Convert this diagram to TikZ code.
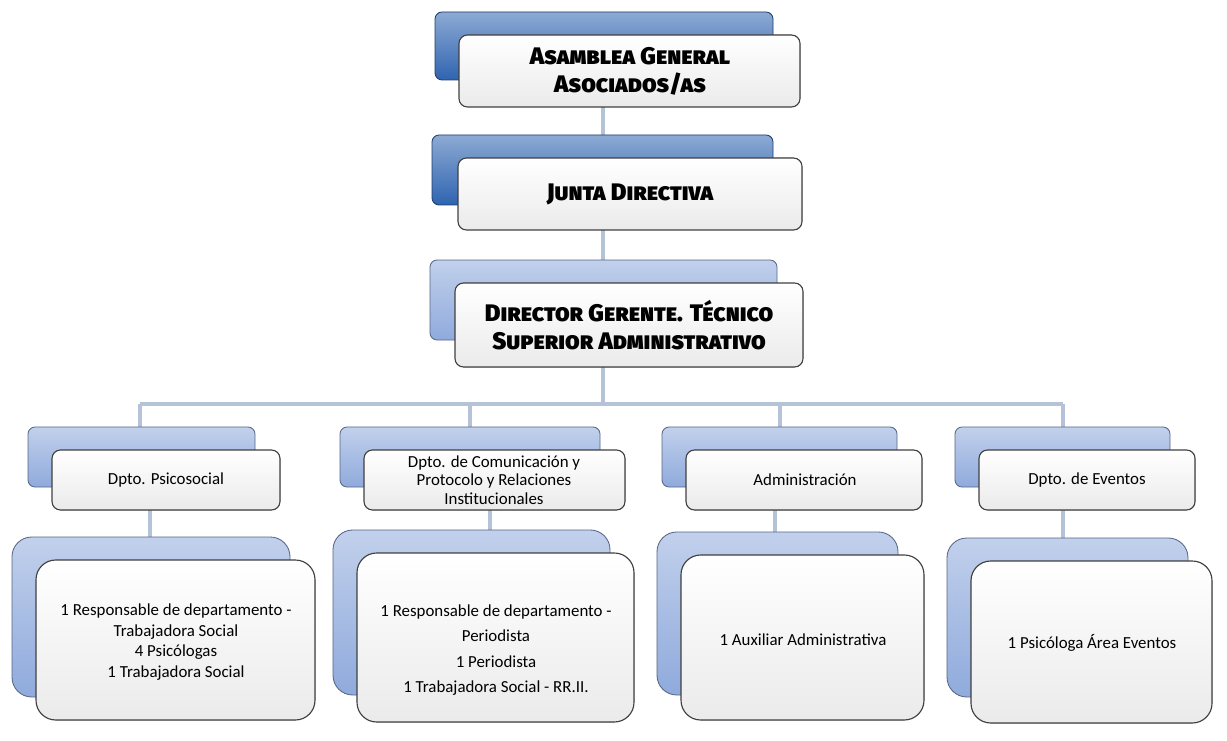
\documentclass[tikz,border=0pt]{standalone}
\usepackage{fontspec}
\setmainfont{Carlito}
\newfontfamily\hfont[Letters=SmallCaps]{Fira Sans Black}
\begin{document}
\begin{tikzpicture}[x=0.025cm,y=-0.025cm,
 back/.style={rounded corners=5pt,draw=#1!60!black,top color=#1!55!white,bottom color=#1,line width=0.6pt},
 front/.style={rounded corners=6pt,draw=black!75,top color=white,bottom color=black!8,line width=0.8pt,align=center},
 conn/.style={line width=2.5pt,draw=cblue},
 htxt/.style={font=\hfont\fontsize{17}{20}\selectfont},
 stxt/.style={font=\fontsize{12}{14.5}\selectfont}]
\definecolor{dblue}{HTML}{2F64B0}
\definecolor{lblue}{HTML}{8FAADC}
\definecolor{cblue}{HTML}{B4C3D8}
\useasboundingbox (0,0) rectangle (1227,741);
% connectors
\coordinate (h1) at (140,404); \coordinate (h4) at (1063,404);
\draw[conn] (603,100) -- (603,290);
\draw[conn] (603,360) -- (603,404);
\draw[conn] (h1) -- (h4);
\foreach \x in {140,470,780,1063}{\draw[conn] (\x,404) -- (\x,432);}
\foreach \x in {150,490,775,1063}{\draw[conn] (\x,505) -- (\x,542);}
% top boxes
\shade[back=dblue] (435,12) rectangle (773,80);
\filldraw[front] (459,35) rectangle (800,107);
\node[htxt,align=center] (ta) at (630,71) {Asamblea General\\Asociados/as};
\shade[back=dblue] (432,135) rectangle (773,205);
\filldraw[front] (458,158) rectangle (802,230);
\node[htxt] (tb) at (630,194) {Junta Directiva};
\shade[back=lblue] (430,260) rectangle (777,340);
\filldraw[front] (455,283) rectangle (803,367);
\node[htxt,align=center] (tc) at (629,325) {Director Gerente. Técnico\\Superior Administrativo};
% row 2
\shade[back=lblue] (28,427) rectangle (255,487);
\filldraw[front] (52,450) rectangle (280,510);
\node[stxt] (d1) at (166,480) {Dpto. Psicosocial};
\shade[back=lblue] (340,427) rectangle (600,487);
\filldraw[front] (364,450) rectangle (625,510);
\node[stxt,align=center,font=\fontsize{12}{13}\selectfont] (d2) at (494,480) {Dpto. de Comunicación y\\Protocolo y Relaciones\\Institucionales};
\shade[back=lblue] (662,427) rectangle (897,487);
\filldraw[front] (686,450) rectangle (922,510);
\node[stxt] (d3) at (805,480) {Administración};
\shade[back=lblue] (955,427) rectangle (1170,487);
\filldraw[front] (979,450) rectangle (1195,510);
\node[stxt] (d4) at (1087,480) {Dpto. de Eventos};
% row 3
\shade[back=lblue,rounded corners=14pt] (12,537) rectangle (290,697);
\filldraw[front,rounded corners=14pt] (36,560) rectangle (315,720);
\node[stxt,align=center] (e1) at (176,642) {1 Responsable de departamento -\\Trabajadora Social\\4 Psicólogas\\1 Trabajadora Social};
\shade[back=lblue,rounded corners=14pt] (333,530) rectangle (610,695);
\filldraw[front,rounded corners=14pt] (357,553) rectangle (634,722);
\node[stxt,align=center,font=\fontsize{12}{18}\selectfont] (e2) at (496,650) {1 Responsable de departamento -\\Periodista\\1 Periodista\\1 Trabajadora Social - RR.II.};
\shade[back=lblue,rounded corners=14pt] (657,532) rectangle (898,695);
\filldraw[front,rounded corners=14pt] (681,555) rectangle (924,720);
\node[stxt] (e3) at (803,640) {1 Auxiliar Administrativa};
\shade[back=lblue,rounded corners=14pt] (947,538) rectangle (1188,697);
\filldraw[front,rounded corners=14pt] (971,561) rectangle (1212,723);
\node[stxt] (e4) at (1092,643) {1 Psicóloga Área Eventos};
\end{tikzpicture}
\end{document}
